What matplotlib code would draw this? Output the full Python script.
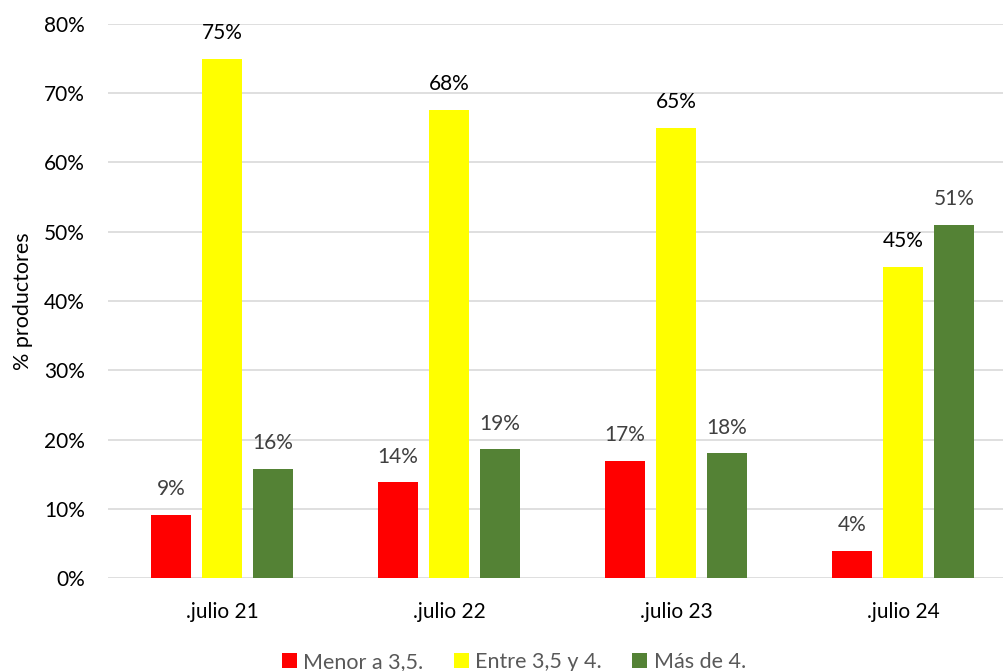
import matplotlib
matplotlib.use("Agg")
import matplotlib.pyplot as plt
import numpy as np
from matplotlib.patches import Patch

categories = [".julio 21", ".julio 22", ".julio 23", ".julio 24"]
series_names = ["Menor a 3,5.", "Entre 3,5 y 4.", "Más de 4."]
menor = [9.1, 13.8, 16.9, 3.9]
entre = [75.0, 67.6, 65.0, 44.9]
mas = [15.8, 18.6, 18.0, 51.0]
label_menor = ["9%", "14%", "17%", "4%"]
label_entre = ["75%", "68%", "65%", "45%"]
label_mas = ["16%", "19%", "18%", "51%"]
colors = ["#FF0000", "#FFFF00", "#548235"]
label_colors = ["#404040", "#000000", "#404040"]

plt.rcParams['font.family'] = ['Lato', 'DejaVu Sans']

fig = plt.figure(figsize=(10.04, 6.71), dpi=100)
W, H = 1004, 671
left, right = 108.5, 1016.5
top, bottom = 24, 578
ax = fig.add_axes([left / W, 1 - bottom / H, (right - left) / W, (bottom - top) / H])

x = np.arange(len(categories))
bw = 0.172
off = 0.2247
data = [menor, entre, mas]
labels = [label_menor, label_entre, label_mas]
for i, (vals, labs) in enumerate(zip(data, labels)):
    pos = x + (i - 1) * off
    ax.bar(pos, vals, width=bw, color=colors[i], zorder=3, label=series_names[i])
    for p, v, l in zip(pos, vals, labs):
        ax.text(p, v + 3.7, l, ha='center', va='center', fontsize=15, color=label_colors[i])

ax.set_xlim(-0.5, 3.5)
ax.set_ylim(0, 80)
ax.set_yticks(np.arange(0, 81, 10))
ax.set_yticklabels([f"{v}%" for v in range(0, 81, 10)], fontsize=15)
ax.set_xticks(x)
ax.set_xticklabels(categories, fontsize=15)
ax.tick_params(length=0)
ax.tick_params(axis='x', pad=17)
ax.tick_params(axis='y', pad=17)
ax.yaxis.grid(True, color='#D9D9D9', linewidth=1.2, zorder=0)
for s in ax.spines.values():
    s.set_visible(False)
ax.set_ylabel("% productores", fontsize=15.5, labelpad=8)

handles = [Patch(facecolor=c, edgecolor='none') for c in colors]
fig.legend(handles, series_names, loc='center', bbox_to_anchor=(514 / W, 1 - 662 / H),
           ncol=3, frameon=False, fontsize=15.5, handlelength=0.7, handleheight=0.7,
           handletextpad=0.3, columnspacing=1.4, labelcolor='#595959')

fig.savefig("out.png", dpi=100)
